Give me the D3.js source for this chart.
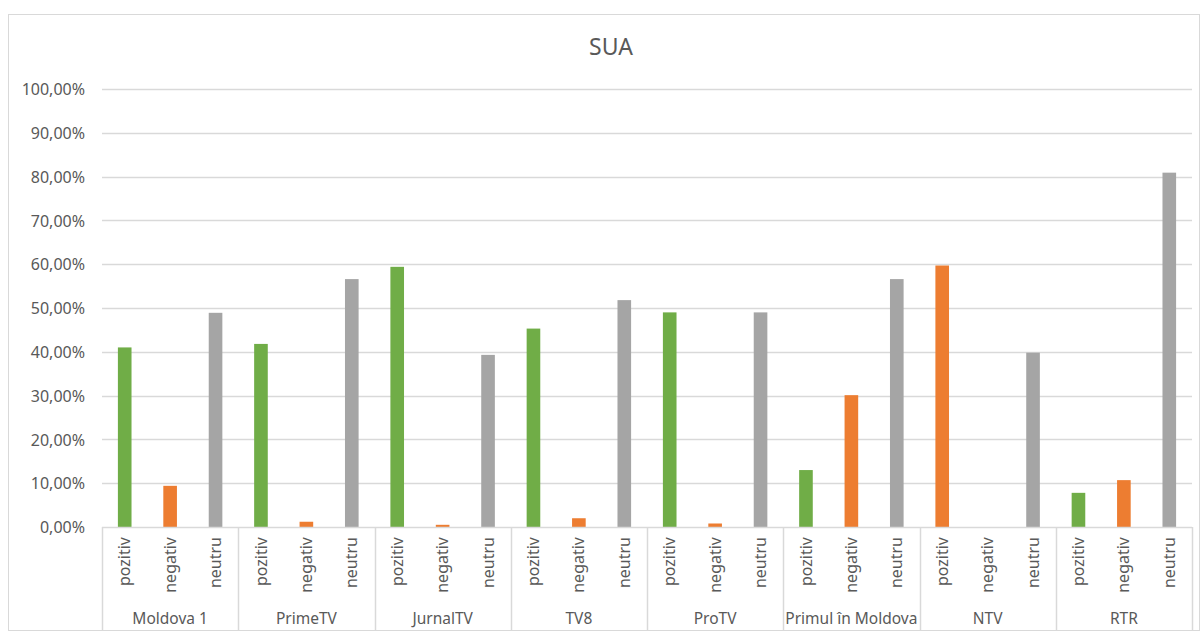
<!DOCTYPE html>
<html>
<head>
<meta charset="utf-8">
<script src="https://cdn.jsdelivr.net/npm/d3@7"></script>
<style>
    body { margin: 0; background: #fff; }
    text { font-family: "Noto Sans", sans-serif; fill: #595959; }
</style>
</head>
<body>
<div id="chart"></div>
<script>
    // data
    var stations = ["Moldova 1", "PrimeTV", "JurnalTV", "TV8", "ProTV", "Primul în Moldova", "NTV", "RTR"];
    var categories = ["pozitiv", "negativ", "neutru"];
    var pozitiv = [0.410, 0.418, 0.594, 0.453, 0.490, 0.130, 0.597, 0.078];
    var negativ = [0.094, 0.012, 0.005, 0.020, 0.008, 0.301, 0.000, 0.107];
    var neutru  = [0.489, 0.566, 0.393, 0.518, 0.490, 0.566, 0.398, 0.809];
    var yTicks = [0, 0.1, 0.2, 0.3, 0.4, 0.5, 0.6, 0.7, 0.8, 0.9, 1];
    var colors = { pozitiv: "#70ad47", negativ: "#ed7d31", neutru: "#a5a5a5" };
    // the NTV pozitiv bar is drawn orange in the original
    var colorOverrides = [{ station: "NTV", category: "pozitiv", color: "#ed7d31" }];

    var width = 1201, height = 632;
    var margin = { top: 89, left: 102, right: 9, bottom: 105 };

    var svg = d3.select("#chart").append("svg")
        .attr("width", width)
        .attr("height", height);

    // outer chart border
    svg.append("rect")
        .attr("x", 8.5).attr("y", 14.5)
        .attr("width", 1191).attr("height", 616)
        .attr("fill", "none")
        .attr("stroke", "#d9d9d9");

    svg.append("text")
        .attr("x", 611).attr("y", 55)
        .attr("text-anchor", "middle")
        .style("font-size", "23px")
        .text("SUA");

    var x0 = d3.scaleBand()
        .domain(stations)
        .range([margin.left, width - margin.right]);

    var x1 = d3.scaleBand()
        .domain(categories)
        .range([0, x0.bandwidth()])
        .paddingInner(0.7)
        .paddingOuter(0.35);

    var y = d3.scaleLinear()
        .domain([0, 1])
        .range([height - margin.bottom, margin.top]);

    var locale = d3.formatLocale({ decimal: ",", thousands: ".", grouping: [3], currency: ["", ""] });
    var pct = locale.format(".2%");

    // gridlines
    svg.append("g")
        .selectAll("line")
        .data(yTicks.slice(1))
        .enter().append("line")
        .attr("x1", margin.left).attr("x2", width - margin.right)
        .attr("y1", function (d) { return Math.round(y(d)) + 0.5; })
        .attr("y2", function (d) { return Math.round(y(d)) + 0.5; })
        .attr("stroke", "#d9d9d9")
        .attr("stroke-width", 1.5);

    var yAxis = svg.append("g")
        .attr("transform", "translate(" + (margin.left - 17) + ",0)")
        .call(d3.axisLeft(y).tickValues(yTicks).tickFormat(pct).tickSize(0).tickPadding(0));
    yAxis.select(".domain").remove();
    yAxis.selectAll("text")
        .style("font-size", "16px")
        .attr("dy", "0.35em");

    var rows = stations.map(function (s, i) {
        return { station: s, values: [pozitiv[i], negativ[i], neutru[i]] };
    });

    function barColor(station, category) {
        var o = colorOverrides.find(function (c) { return c.station === station && c.category === category; });
        return o ? o.color : colors[category];
    }

    var group = svg.append("g")
        .selectAll("g")
        .data(rows)
        .enter().append("g")
        .attr("transform", function (d) { return "translate(" + x0(d.station) + ",0)"; });

    group.selectAll("rect")
        .data(function (d) {
            return categories.map(function (c, j) { return { station: d.station, category: c, value: d.values[j] }; });
        })
        .enter().append("rect")
        .attr("x", function (d) { return x1(d.category); })
        .attr("width", x1.bandwidth())
        .attr("y", function (d) { return y(d.value); })
        .attr("height", function (d) { return y(0) - y(d.value); })
        .attr("fill", function (d) { return barColor(d.station, d.category); });

    // category axis line
    var base = y(0);
    svg.append("line")
        .attr("x1", margin.left).attr("x2", width - margin.right)
        .attr("y1", base + 0.5).attr("y2", base + 0.5)
        .attr("stroke", "#d9d9d9")
        .attr("stroke-width", 1.5);

    // group separators
    var bounds = stations.map(function (s) { return x0(s); }).concat([x0.range()[1]]);
    svg.append("g")
        .selectAll("line")
        .data(bounds)
        .enter().append("line")
        .attr("x1", function (d) { return Math.round(d) + 0.5; })
        .attr("x2", function (d) { return Math.round(d) + 0.5; })
        .attr("y1", base).attr("y2", 630)
        .attr("stroke", "#d9d9d9")
        .attr("stroke-width", 1.5);

    // rotated category labels
    group.selectAll(".cat")
        .data(categories)
        .enter().append("text")
        .attr("class", "cat")
        .attr("text-anchor", "end")
        .attr("dy", "0.35em")
        .style("font-size", "16px")
        .attr("transform", function (c) {
            return "translate(" + (x1(c) + x1.bandwidth() / 2) + "," + (base + 10) + ") rotate(-90)";
        })
        .text(function (c) { return c; });

    group.append("text")
        .attr("x", x0.bandwidth() / 2)
        .attr("y", 624)
        .attr("text-anchor", "middle")
        .style("font-size", "15.5px")
        .text(function (d) { return d.station; });
</script>
</body>
</html>
